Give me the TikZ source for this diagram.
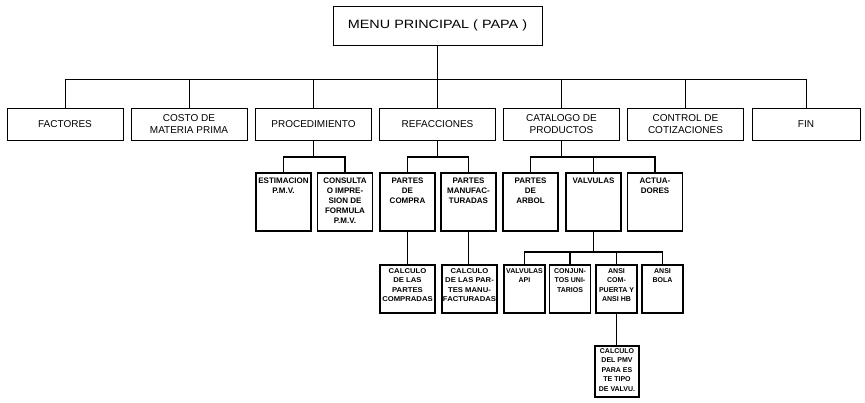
\documentclass[tikz,border=0pt]{standalone}
\usepackage{fontspec}
\setmainfont{Liberation Sans}
\newfontfamily\widefont[FakeStretch=1.2]{Liberation Sans}
\newfontfamily\leaffont[FakeStretch=1.1]{Liberation Sans}
\begin{document}
\begin{tikzpicture}[x=1pt,y=-1pt,
  line cap=rect,
  topbox/.style={draw, line width=0.9pt, minimum width=209pt, minimum height=39pt,
    inner sep=0pt, font=\widefont\fontsize{12}{14}\selectfont},
  mainbox/.style={draw, line width=0.9pt, minimum width=116pt, minimum height=32pt,
    inner sep=0pt, align=center, font=\fontsize{10}{12}\selectfont},
  subbox/.style={draw, line width=1.3pt, minimum width=55pt, minimum height=58pt, inner sep=0pt},
  leafbox/.style={draw, line width=1.3pt, minimum width=55pt, minimum height=48pt, inner sep=0pt},
  valvbox/.style={draw, line width=1.3pt, minimum width=41pt, minimum height=48pt, inner sep=0pt},
  endbox/.style={draw, line width=1.3pt, minimum width=44pt, minimum height=51pt, inner sep=0pt},
  subtxt/.style={anchor=north, inner sep=0pt, align=center,
    font=\bfseries\fontsize{8}{10}\selectfont},
  leaftxt/.style={anchor=north, inner sep=0pt, align=center,
    font=\bfseries\fontsize{7}{9.4}\selectfont},
  wideleaftxt/.style={leaftxt, font=\leaffont\bfseries\fontsize{7}{9.4}\selectfont},
  link/.style={line width=1pt},
  sublink/.style={line width=1.3pt}]
\useasboundingbox (0,0) rectangle (865,402);

% root
\node[topbox] (menu) at (437.5,25.5) {MENU PRINCIPAL ( PAPA )};

% first level
\node[mainbox] (fac)   at (65,124)    {FACTORES};
\node[mainbox] (costo) at (189,124)   {COSTO DE\\MATERIA PRIMA};
\node[mainbox] (proc)  at (313.5,124) {PROCEDIMIENTO};
\node[mainbox] (ref)   at (437.5,124) {REFACCIONES};
\node[mainbox] (cat)   at (561.5,124) {CATALOGO DE\\PRODUCTOS};
\node[mainbox] (ctrl)  at (685.5,124) {CONTROL DE\\COTIZACIONES};
\node[mainbox, minimum width=108pt] (fin) at (806,124) {FIN};

\coordinate (bus1) at (0,79);
\draw[link] (menu.south) -- (menu.south |- bus1);
\draw[link] (fac.north) -- (fac.north |- bus1) -- (fin.north |- bus1) -- (fin.north);
\foreach \n in {costo,proc,ref,cat,ctrl}
  \draw[link] (\n.north) -- (\n.north |- bus1);

% second level
\node[subbox] (est)  at (283.5,202) {};
\node[subbox] (cons) at (345,202)   {};
\node[subbox] (pcom) at (407.5,202) {};
\node[subbox] (pman) at (468.5,202) {};
\node[subbox] (parb) at (530.5,202) {};
\node[subbox] (valv) at (593.5,202) {};
\node[subbox] (act)  at (655,202)   {};

\node[subtxt] (est-t)  at ([yshift=-5pt]est.north)  {ESTIMACION\\P.M.V.};
\node[subtxt] (cons-t) at ([yshift=-5pt]cons.north) {CONSULTA\\O IMPRE-\\SION DE\\FORMULA\\P.M.V.};
\node[subtxt] (pcom-t) at ([yshift=-5pt]pcom.north) {PARTES\\DE\\COMPRA};
\node[subtxt] (pman-t) at ([yshift=-5pt]pman.north) {PARTES\\MANUFAC-\\TURADAS};
\node[subtxt] (parb-t) at ([yshift=-5pt]parb.north) {PARTES\\DE\\ARBOL};
\node[subtxt] (valv-t) at ([yshift=-5pt]valv.north) {VALVULAS};
\node[subtxt] (act-t)  at ([yshift=-5pt]act.north)  {ACTUA-\\DORES};

\coordinate (bus2) at (0,157);
\draw[sublink] (proc.south) -- (proc.south |- bus2);
\draw[sublink] (est.north) -- (est.north |- bus2) -- (cons.north |- bus2) -- (cons.north);
\draw[sublink] (ref.south) -- (ref.south |- bus2);
\draw[sublink] (pcom.north) -- (pcom.north |- bus2) -- (pman.north |- bus2) -- (pman.north);
\draw[sublink] (cat.south) -- (cat.south |- bus2);
\draw[sublink] (parb.north) -- (parb.north |- bus2) -- (act.north |- bus2) -- (act.north);
\draw[sublink] (valv.north) -- (valv.north |- bus2);

% third level
\node[leafbox] (cpc) at (407.5,289) {};
\node[leafbox] (cpm) at (469.5,289) {};
\node[valvbox] (vapi)  at (524.5,289) {};
\node[valvbox] (conj)  at (570,289)   {};
\node[valvbox] (ansic) at (616.5,289) {};
\node[valvbox] (ansib) at (662.5,289) {};

\node[wideleaftxt] (cpc-t) at ([yshift=-4pt]cpc.north) {CALCULO\\DE LAS\\PARTES\\COMPRADAS};
\node[wideleaftxt] (cpm-t) at ([yshift=-4pt]cpm.north) {CALCULO\\DE LAS PAR-\\TES MANU-\\FACTURADAS};
\node[leaftxt] (vapi-t)  at ([yshift=-4pt]vapi.north)  {VALVULAS\\API};
\node[leaftxt] (conj-t)  at ([yshift=-4pt]conj.north)  {CONJUN-\\TOS UNI-\\TARIOS};
\node[leaftxt] (ansic-t) at ([yshift=-4pt]ansic.north) {ANSI\\COM-\\PUERTA Y\\ANSI HB};
\node[leaftxt] (ansib-t) at ([yshift=-4pt]ansib.north) {ANSI\\BOLA};

\draw[sublink] (pcom.south) -- (pcom.south |- cpc.north);
\draw[sublink] (pman.south) -- (pman.south |- cpm.north);

\coordinate (bus3) at (0,252);
\draw[sublink] (valv.south) -- (valv.south |- bus3);
\draw[sublink] (vapi.north) -- (vapi.north |- bus3) -- (ansib.north |- bus3) -- (ansib.north);
\draw[sublink] (conj.north) -- (conj.north |- bus3);
\draw[sublink] (ansic.north) -- (ansic.north |- bus3);

% fourth level
\node[endbox] (cpmv) at (617,371.5) {};
\node[leaftxt] (cpmv-t) at ([yshift=-3pt]cpmv.north) {CALCULO\\DEL PMV\\PARA ES\\TE TIPO\\DE VALVU.};
\draw[sublink] (ansic.south) -- (ansic.south |- cpmv.north);
\end{tikzpicture}
\end{document}
